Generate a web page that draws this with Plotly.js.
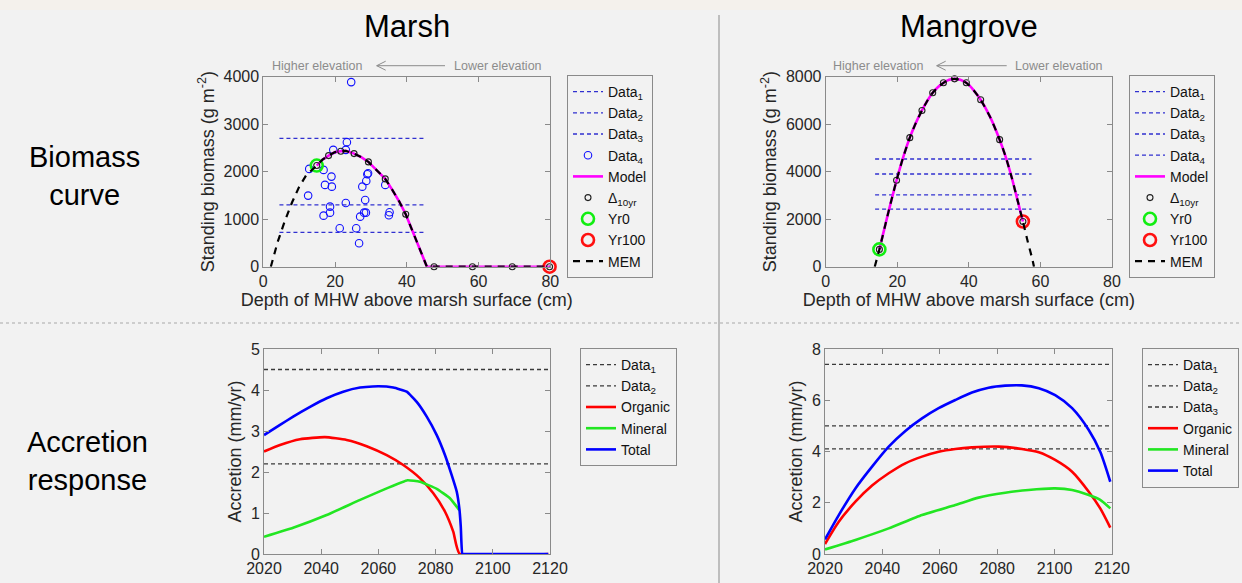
<!DOCTYPE html>
<html><head><meta charset="utf-8">
<script src="https://cdn.plot.ly/plotly-3.0.1.min.js"></script>
<style>html,body{margin:0;padding:0;background:#f2f2f2;} #chart{width:1242px;height:583px;}</style>
</head><body><div id="chart"></div><script>
// ---------- Marsh biomass curve ----------
const marshDataLevels = [2700, 1300, 720];
const marshDataXRange = [4.5, 45.4];
const marshObsDepth = [24.5,23.3,19.5,23.0,12.8,16.8,19.0,17.2,19.1,12.5,18.6,23.0,16.8,18.6,21.3,25.9,26.7,27.0,28.1,28.6,28.4,27.6,28.7,29.0,29.2,34.0,35.0,35.2];
const marshObsBio = [3882,2619,2457,2457,2057,2036,1895,1720,1684,1495,1263,1341,1074,1137,808,808,492,1053,1137,1137,1404,1684,1804,1945,1966,1720,1081,1145];
const marshMemDepth = [2.1,4,6,8,10,12,14.9,16.5,18.2,20,21.6,23,25.3,27.3,29.3,31.5,34,36,37.9,39.7,41.5,43.5,45,45.6,50,60,70,80];
const marshMemBio = [0,520,960,1350,1680,1930,2127,2250,2337,2410,2429,2436,2379,2303,2204,2045,1846,1610,1370,1103,772,390,105,0,0,0,0,0];
const marshModelStart = 14.9;
const marshDeltaDepth = [14.9,18.2,21.6,25.3,29.3,34.0,39.7,47.6,58.3,69.4,79.8];
const marshDeltaBio = [2127,2337,2429,2379,2204,1846,1103,0,0,0,0];
const marshYr0 = [14.9, 2127];
const marshYr100 = [79.8, 0];

// ---------- Mangrove biomass curve ----------
const mangDataLevels = [4530, 3900, 3020, 2420];
const mangDataXRange = [13.8, 57.5];
const mangMemDepth = [13.7,15,17.4,19.8,21.6,23.5,25.2,26.9,28.4,29.9,31.4,32.9,34.5,36,37.6,39.3,41.3,43.3,46,48.6,50.3,52,53.6,55.1,56.5,57.8,58.2];
const mangMemBio = [0,727,2220,3636,4580,5427,6050,6573,6980,7315,7560,7734,7860,7902,7860,7734,7430,7021,6280,5343,4620,3740,2800,1902,1030,280,0];
const mangModelRange = [15.0, 55.1];
const mangDeltaDepth = [15.0,19.8,23.5,26.9,29.9,32.9,36.0,39.3,43.3,48.6,55.1];
const mangDeltaBio = [727,3636,5427,6573,7315,7734,7902,7734,7021,5343,1902];
const mangYr0 = [15.0, 727];
const mangYr100 = [55.1, 1902];

// ---------- Marsh accretion ----------
const marshAccData = [4.5, 2.2];
const yearRange = [2020, 2120];
const marshTotYear = [2020,2025.6,2030.2,2036.1,2041.9,2047.7,2053.6,2060,2065.2,2069.9,2073.4,2076.9,2080.4,2083.3,2085.6,2087.4,2088.3,2088.8,2089.3,2089.6,2119.4];
const marshTotVal = [2.90,3.15,3.35,3.59,3.80,3.96,4.06,4.09,4.06,3.96,3.71,3.35,2.90,2.41,1.93,1.52,1.11,0.67,0,0,0];
const marshOrgYear = [2020,2025.6,2032.6,2041.3,2048.9,2055.9,2062.9,2068.7,2074.5,2079.2,2083.3,2086.2,2088.5,2119.4];
const marshOrgVal = [2.50,2.66,2.80,2.85,2.78,2.63,2.41,2.17,1.85,1.48,1.03,0.54,0,0];
const marshMinYear = [2020,2030.2,2041.9,2053.6,2062.9,2070.2,2074.5,2080.4,2085,2088.3];
const marshMinVal = [0.42,0.64,0.95,1.32,1.60,1.80,1.76,1.59,1.36,1.07];

// ---------- Mangrove accretion ----------
const mangAccData = [7.4, 5.0, 4.1];
const mangTotYear = [2020,2024.8,2030.6,2036.4,2042.2,2048,2053.8,2059.6,2065.4,2071.2,2077,2082.8,2088.6,2094.5,2100.2,2106.1,2111.9,2115.9,2119.4];
const mangTotVal = [0.57,1.52,2.56,3.41,4.19,4.80,5.29,5.69,6.01,6.30,6.49,6.57,6.58,6.47,6.20,5.69,4.84,3.99,2.82];
const mangOrgYear = [2020,2024.8,2030.6,2036.4,2042.2,2048,2053.8,2059.6,2065.4,2071.2,2080.5,2088.6,2094.5,2100.2,2106.1,2111.9,2115.9,2119.4];
const mangOrgVal = [0.39,1.26,2.04,2.67,3.15,3.54,3.80,3.99,4.10,4.16,4.19,4.10,3.97,3.67,3.21,2.43,1.78,1.03];
const mangMinYear = [2020,2030.6,2042.2,2053.8,2065.4,2073.5,2082.8,2090.9,2100.2,2106.1,2111.9,2115.9,2119.4];
const mangMinVal = [0.18,0.55,1.00,1.52,1.91,2.20,2.39,2.50,2.56,2.50,2.30,2.11,1.78];

// ---------- helpers ----------
const W = 1242, H = 583;
const px = v => v / W;
const py = v => 1 - v / H;
const FONT = 'Liberation Sans, Arial, Helvetica, sans-serif';
const dataBlue = '#3030d0';
const sub = (s, n) => s + '<sub>' + n + '</sub>';

const traces = [];
function hline(level, xr, name, xa, ya, color, leg) {
  traces.push({x: xr, y: [level, level], mode: 'lines', name: name, xaxis: xa, yaxis: ya, legend: leg,
    line: {color: color, width: 1.3, dash: '4px,3px'}, cliponaxis: false, hoverinfo: 'skip'});
}
function filt(xs, ys, lo, hi) {
  const ox = [], oy = [];
  xs.forEach((v, i) => { if (v >= lo - 1e-9 && v <= hi + 1e-9) { ox.push(v); oy.push(ys[i]); } });
  return [ox, oy];
}

// Marsh biomass traces
marshDataLevels.forEach((lv, i) => hline(lv, marshDataXRange, sub('Data', i + 1), 'x', 'y', dataBlue, 'legend'));
traces.push({x: marshObsDepth, y: marshObsBio, mode: 'markers', name: sub('Data', 4), xaxis: 'x', yaxis: 'y', legend: 'legend',
  marker: {symbol: 'circle-open', size: 7.5, color: '#1010ff', line: {width: 1.1}}, cliponaxis: false});
const mm = filt(marshMemDepth, marshMemBio, marshModelStart, 80);
traces.push({x: mm[0], y: mm[1], mode: 'lines', name: 'Model', xaxis: 'x', yaxis: 'y', legend: 'legend',
  line: {color: '#ff00ff', width: 2.6}, cliponaxis: false});
traces.push({x: marshDeltaDepth, y: marshDeltaBio, mode: 'markers', name: sub('Δ', '10yr'), xaxis: 'x', yaxis: 'y', legend: 'legend',
  marker: {symbol: 'circle-open', size: 6, color: '#222', line: {width: 1.1}}, cliponaxis: false});
traces.push({x: [marshYr0[0]], y: [marshYr0[1]], mode: 'markers', name: 'Yr0', xaxis: 'x', yaxis: 'y', legend: 'legend',
  marker: {symbol: 'circle-open', size: 12, color: '#11ee11', line: {width: 2.6}}, cliponaxis: false});
traces.push({x: [marshYr100[0]], y: [marshYr100[1]], mode: 'markers', name: 'Yr100', xaxis: 'x', yaxis: 'y', legend: 'legend',
  marker: {symbol: 'circle-open', size: 12, color: '#ff1010', line: {width: 2.6}}, cliponaxis: false});
traces.push({x: marshMemDepth, y: marshMemBio, mode: 'lines', name: 'MEM', xaxis: 'x', yaxis: 'y', legend: 'legend',
  line: {color: '#000', width: 2.2, dash: '7px,6px'}, cliponaxis: false});

// Mangrove biomass traces
mangDataLevels.forEach((lv, i) => hline(lv, mangDataXRange, sub('Data', i + 1), 'x2', 'y2', dataBlue, 'legend2'));
const gm = filt(mangMemDepth, mangMemBio, mangModelRange[0], mangModelRange[1]);
traces.push({x: gm[0], y: gm[1], mode: 'lines', name: 'Model', xaxis: 'x2', yaxis: 'y2', legend: 'legend2',
  line: {color: '#ff00ff', width: 2.6, shape: 'spline', smoothing: 0.6}, cliponaxis: false});
traces.push({x: mangDeltaDepth, y: mangDeltaBio, mode: 'markers', name: sub('Δ', '10yr'), xaxis: 'x2', yaxis: 'y2', legend: 'legend2',
  marker: {symbol: 'circle-open', size: 6, color: '#222', line: {width: 1.1}}, cliponaxis: false});
traces.push({x: [mangYr0[0]], y: [mangYr0[1]], mode: 'markers', name: 'Yr0', xaxis: 'x2', yaxis: 'y2', legend: 'legend2',
  marker: {symbol: 'circle-open', size: 12, color: '#11ee11', line: {width: 2.6}}, cliponaxis: false});
traces.push({x: [mangYr100[0]], y: [mangYr100[1]], mode: 'markers', name: 'Yr100', xaxis: 'x2', yaxis: 'y2', legend: 'legend2',
  marker: {symbol: 'circle-open', size: 12, color: '#ff1010', line: {width: 2.6}}, cliponaxis: false});
traces.push({x: mangMemDepth, y: mangMemBio, mode: 'lines', name: 'MEM', xaxis: 'x2', yaxis: 'y2', legend: 'legend2',
  line: {color: '#000', width: 2.2, dash: '7px,6px', shape: 'spline', smoothing: 0.6}, cliponaxis: false});

// Marsh accretion traces
marshAccData.forEach((lv, i) => hline(lv, yearRange, sub('Data', i + 1), 'x3', 'y3', '#3a3a3a', 'legend3'));
traces.push({x: marshOrgYear, y: marshOrgVal, mode: 'lines', name: 'Organic', xaxis: 'x3', yaxis: 'y3', legend: 'legend3',
  line: {color: '#ff0000', width: 2.6, shape: 'spline', smoothing: 0.5}, cliponaxis: false});
traces.push({x: marshMinYear, y: marshMinVal, mode: 'lines', name: 'Mineral', xaxis: 'x3', yaxis: 'y3', legend: 'legend3',
  line: {color: '#22e622', width: 2.6, shape: 'spline', smoothing: 0.35}, cliponaxis: false});
traces.push({x: marshTotYear, y: marshTotVal, mode: 'lines', name: 'Total', xaxis: 'x3', yaxis: 'y3', legend: 'legend3',
  line: {color: '#0000ff', width: 2.6, shape: 'spline', smoothing: 0.35}, cliponaxis: false});

// Mangrove accretion traces
mangAccData.forEach((lv, i) => hline(lv, yearRange, sub('Data', i + 1), 'x4', 'y4', '#3a3a3a', 'legend4'));
traces.push({x: mangOrgYear, y: mangOrgVal, mode: 'lines', name: 'Organic', xaxis: 'x4', yaxis: 'y4', legend: 'legend4',
  line: {color: '#ff0000', width: 2.6, shape: 'spline', smoothing: 0.7}, cliponaxis: false});
traces.push({x: mangMinYear, y: mangMinVal, mode: 'lines', name: 'Mineral', xaxis: 'x4', yaxis: 'y4', legend: 'legend4',
  line: {color: '#22e622', width: 2.6, shape: 'spline', smoothing: 0.5}, cliponaxis: false});
traces.push({x: mangTotYear, y: mangTotVal, mode: 'lines', name: 'Total', xaxis: 'x4', yaxis: 'y4', legend: 'legend4',
  line: {color: '#0000ff', width: 2.6, shape: 'spline', smoothing: 0.7}, cliponaxis: false});

// ---------- layout ----------
const axBase = {showline: true, mirror: 'ticks', linecolor: '#8a8a8a', linewidth: 1, ticks: 'inside', ticklen: 5,
  tickcolor: '#8a8a8a', showgrid: false, zeroline: false, tickfont: {size: 16, color: '#262626', family: FONT}, fixedrange: true};
const axTitle = (t, so) => ({text: t, font: {size: 18, color: '#262626', family: FONT}, standoff: so});
const depthTitle = 'Depth of MHW above marsh surface (cm)';
const bioTitle = 'Standing biomass (g m<sup>-2</sup>)';
const accTitle = 'Accretion (mm/yr)';
const topY = [py(266.7), py(76.5)];
const botY = [py(554), py(349)];

const legBase = {xanchor: 'left', yanchor: 'top', bgcolor: '#f2f2f2', bordercolor: '#8a8a8a', borderwidth: 1,
  font: {size: 14, color: '#111', family: FONT}, itemwidth: 30, tracegroupgap: 0};

const gray = '#8c8c8c';
function arrowShapes(x0, x1, yv) {
  return [
    {type: 'line', xref: 'paper', yref: 'paper', x0: px(x0), x1: px(x1), y0: py(yv), y1: py(yv), line: {color: gray, width: 1}},
    {type: 'line', xref: 'paper', yref: 'paper', x0: px(x0), x1: px(x0 + 9), y0: py(yv), y1: py(yv - 4.5), line: {color: gray, width: 1}},
    {type: 'line', xref: 'paper', yref: 'paper', x0: px(x0), x1: px(x0 + 9), y0: py(yv), y1: py(yv + 4.5), line: {color: gray, width: 1}}
  ];
}

const shapes = [
  {type: 'rect', xref: 'paper', yref: 'paper', x0: 0, x1: 1, y0: py(10), y1: 1, fillcolor: '#f4f1ec', line: {width: 0}, layer: 'below'},
  {type: 'line', xref: 'paper', yref: 'paper', x0: px(719), x1: px(719), y0: py(15), y1: 0, line: {color: '#8a8a8a', width: 1}},
  {type: 'line', xref: 'paper', yref: 'paper', x0: 0, x1: 1, y0: py(323), y1: py(323), line: {color: '#a8a8a8', width: 1, dash: '3px,3px'}},
  ...arrowShapes(376.7, 445, 65.7),
  ...arrowShapes(936.7, 1006.7, 65.7)
];

const ann = (x, y, text, size, color, extra) => Object.assign({xref: 'paper', yref: 'paper', x: px(x), y: py(y), text: text,
  showarrow: false, xanchor: 'center', yanchor: 'middle', font: {size: size, color: color, family: FONT}}, extra || {});

const annotations = [
  ann(407, 26, 'Marsh', 31, '#000'),
  ann(969, 26, 'Mangrove', 31, '#000'),
  ann(84, 176, 'Biomass<br>curve', 29, '#000'),
  ann(87, 461, 'Accretion<br>response', 29, '#000'),
  ann(317, 65.7, 'Higher elevation', 12.5, gray),
  ann(498.4, 65.7, 'Lower elevation', 12.5, gray),
  ann(877.7, 65.7, 'Higher elevation', 12.5, gray),
  ann(1059.3, 65.7, 'Lower elevation', 12.5, gray)
];

const layout = {
  width: W, height: H, margin: {l: 0, r: 0, t: 0, b: 0},
  paper_bgcolor: '#f2f2f2', plot_bgcolor: '#f2f2f2',
  font: {family: FONT, color: '#262626'},
  showlegend: true,
  xaxis: Object.assign({}, axBase, {domain: [px(263.3), px(550.3)], anchor: 'y', range: [0, 80], tickvals: [0, 20, 40, 60, 80], title: axTitle(depthTitle, 4)}),
  yaxis: Object.assign({}, axBase, {domain: topY, anchor: 'x', range: [0, 4000], dtick: 1000, title: axTitle(bioTitle, 4)}),
  xaxis2: Object.assign({}, axBase, {domain: [px(825.7), px(1112)], anchor: 'y2', range: [0, 80], tickvals: [0, 20, 40, 60, 80], title: axTitle(depthTitle, 4)}),
  yaxis2: Object.assign({}, axBase, {domain: topY, anchor: 'x2', range: [0, 8000], dtick: 2000, title: axTitle(bioTitle, 4)}),
  xaxis3: Object.assign({}, axBase, {domain: [px(264), px(550)], anchor: 'y3', range: yearRange, dtick: 20}),
  yaxis3: Object.assign({}, axBase, {domain: botY, anchor: 'x3', range: [0, 5], dtick: 1, title: axTitle(accTitle, 4)}),
  xaxis4: Object.assign({}, axBase, {domain: [px(825), px(1112)], anchor: 'y4', range: yearRange, dtick: 20}),
  yaxis4: Object.assign({}, axBase, {domain: botY, anchor: 'x4', range: [0, 8], dtick: 2, title: axTitle(accTitle, 4)}),
  legend: Object.assign({}, legBase, {x: px(567), y: py(75)}),
  legend2: Object.assign({}, legBase, {x: px(1129), y: py(75)}),
  legend3: Object.assign({}, legBase, {x: px(580), y: py(348)}),
  legend4: Object.assign({}, legBase, {x: px(1142), y: py(348)}),
  shapes: shapes,
  annotations: annotations
};

Plotly.newPlot('chart', traces, layout, {displayModeBar: false, staticPlot: true});
</script></body></html>
